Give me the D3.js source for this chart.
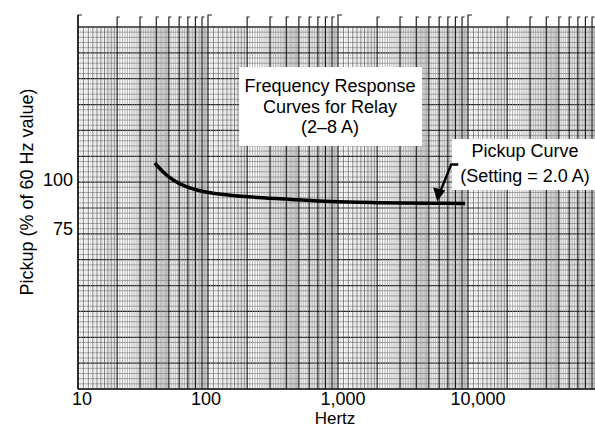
<!DOCTYPE html>
<html>
<head>
<meta charset="utf-8">
<script src="https://cdn.jsdelivr.net/npm/d3@7"></script>
<style>
  body { margin: 0; background: #fff; }
  svg { display: block; font-family: "Liberation Sans", Arial, sans-serif; }
</style>
</head>
<body>
<script>
// curve
var freqHz    = [39, 45, 54, 68, 82, 104, 148, 264, 484, 868, 2000, 5000, 9500];
var pickupPct = [110.7, 105.1, 100, 96.1, 94.2, 92.6, 91.3, 89.9, 88.8, 87.9, 87.3, 87.0, 86.9];

var xTicks = [10, 100, 1000, 10000];
var xTickLabels = ["10", "100", "1,000", "10,000"];
var yTicks = [100, 75];
var yTickLabels = ["100", "75"];
var xDomain = [10, 100000];
var yDomain = [28.6, 250];
var decades = [10, 100, 1000, 10000];

var width = 595, height = 428;
var plotL = 78, plotR = 598, plotT = 27, plotB = 389;

var svg = d3.select("body").append("svg")
    .attr("width", width)
    .attr("height", height);

var x = d3.scaleLog().domain(xDomain).range([plotL, plotR]);
var y = d3.scaleLog().domain(yDomain).range([plotB, plotT]);
// the paper's horizontal rulings are evenly spaced
var paperY = d3.scaleLinear().domain([0, 70]).range([plotB, plotT]);

var paper = svg.append("g");

// horizontal rulings
paper.selectAll("line.h")
    .data(d3.range(0, 71))
    .enter().append("line")
    .attr("class", "h")
    .attr("x1", plotL).attr("x2", width)
    .attr("y1", function(d){ return paperY(d); })
    .attr("y2", function(d){ return paperY(d); })
    .attr("stroke", function(d){ return d % 5 == 0 ? "#1a1a1a" : "#7a7a7a"; })
    .attr("stroke-width", function(d){ return d % 5 == 0 ? 1.2 : 0.7; });

// vertical rulings, log cycles
var vlines = [];
decades.forEach(function(dec){
    for (var m = 10; m < 100; m++) {
        var v = m / 10;
        if (v < 2) vlines.push({v: v * dec, kind: m % 10 == 0 ? "major" : "mid"});
        else if (v < 5) vlines.push({v: v * dec, kind: m % 10 == 0 ? "major" : "minor"});
        else if (m % 2 == 0) vlines.push({v: v * dec, kind: m % 10 == 0 ? "major" : "minor"});
    }
    // extra fine rulings in the 1-2 part
    for (var k = 21; k < 40; k += 2) vlines.push({v: k / 20 * dec, kind: "fine"});
});
vlines.push({v: 100000, kind: "major"});

var vStroke = {major: "#1a1a1a", mid: "#5e5e5e", minor: "#929292", fine: "#bdbdbd"};
var vWidth = {major: 1.2, mid: 0.8, minor: 0.7, fine: 0.6};

paper.selectAll("line.v")
    .data(vlines)
    .enter().append("line")
    .attr("class", "v")
    .attr("x1", function(d){ return x(d.v); })
    .attr("x2", function(d){ return x(d.v); })
    .attr("y1", plotT).attr("y2", plotB)
    .attr("stroke", function(d){ return vStroke[d.kind]; })
    .attr("stroke-width", function(d){ return vWidth[d.kind]; });

// little flags above each cycle line
var flags = vlines.filter(function(d){ return d.kind == "major"; });
paper.selectAll("path.flag")
    .data(flags)
    .enter().append("path")
    .attr("class", "flag")
    .attr("d", function(d){
        var px = x(d.v);
        var isDec = decades.indexOf(d.v) >= 0 || d.v == 100000;
        return "M" + px + "," + plotT + "V" + (isDec ? 15 : 17) + "h" + (isDec ? 4 : 2.5);
    })
    .attr("fill", "none")
    .attr("stroke", "#222")
    .attr("stroke-width", 1.2);

// border
paper.append("line").attr("x1", plotL).attr("x2", width).attr("y1", plotT).attr("y2", plotT)
    .attr("stroke", "#333").attr("stroke-width", 1);
paper.append("line").attr("x1", plotL).attr("x2", width).attr("y1", plotB).attr("y2", plotB)
    .attr("stroke", "#222").attr("stroke-width", 1.4);
paper.append("line").attr("x1", plotL).attr("x2", plotL).attr("y1", 15).attr("y2", plotB)
    .attr("stroke", "#111").attr("stroke-width", 1.4);

// white label boxes
svg.append("rect").attr("x", 239).attr("y", 67).attr("width", 183).attr("height", 79).attr("fill", "#fff");
svg.append("rect").attr("x", 452).attr("y", 139).attr("width", 143).attr("height", 51).attr("fill", "#fff");

// pickup curve
var pts = freqHz.map(function(f, i){ return [f, pickupPct[i]]; });
var line = d3.line()
    .x(function(d){ return x(d[0]); })
    .y(function(d){ return y(d[1]); })
    .curve(d3.curveMonotoneX);

svg.append("path")
    .datum(pts)
    .attr("d", line)
    .attr("fill", "none")
    .attr("stroke", "#000")
    .attr("stroke-width", 3.5)
    .attr("stroke-linecap", "butt");

// titles
var title = svg.append("text")
    .attr("text-anchor", "middle")
    .attr("font-size", "18px")
    .attr("fill", "#000");
["Frequency Response", "Curves for Relay", "(2\u20138 A)"].forEach(function(t, i){
    title.append("tspan").attr("x", 330).attr("y", 92 + i * 20.5).text(t);
});

var note = svg.append("text")
    .attr("text-anchor", "middle")
    .attr("font-size", "18px")
    .attr("fill", "#000");
["Pickup Curve", "(Setting = 2.0 A)"].forEach(function(t, i){
    note.append("tspan").attr("x", 525).attr("y", 157 + i * 25).text(t);
});

// arrow pointing to the curve
var tipX = x(5800), tipY = y(86.9) - 2;
svg.append("path")
    .attr("d", "M" + (tipX + 21) + "," + (tipY - 37) + "h-7L" + (tipX + 3) + "," + (tipY - 10))
    .attr("fill", "none")
    .attr("stroke", "#000")
    .attr("stroke-width", 2.4);
svg.append("path")
    .attr("d", "M" + tipX + "," + tipY + "L" + (tipX - 4) + "," + (tipY - 14) + "L" + (tipX + 8) + "," + (tipY - 11) + "Z")
    .attr("fill", "#000");

// axis labels
svg.selectAll("text.xt")
    .data(xTicks)
    .enter().append("text")
    .attr("class", "xt")
    .attr("x", function(d, i){ return x(d) + [4, -2, 5, 10][i]; })
    .attr("y", 404.5)
    .attr("text-anchor", "middle")
    .attr("font-size", "18px")
    .text(function(d, i){ return xTickLabels[i]; });

svg.selectAll("text.yt")
    .data(yTicks)
    .enter().append("text")
    .attr("class", "yt")
    .attr("x", 73)
    .attr("y", function(d){ return y(d) + 6.5; })
    .attr("text-anchor", "end")
    .attr("font-size", "18px")
    .text(function(d, i){ return yTickLabels[i]; });

svg.append("text")
    .attr("x", 335).attr("y", 424)
    .attr("text-anchor", "middle")
    .attr("font-size", "17px")
    .text("Hertz");

svg.append("text")
    .attr("transform", "translate(33,192) rotate(-90)")
    .attr("text-anchor", "middle")
    .attr("font-size", "18px")
    .text("Pickup (% of 60 Hz value)");
</script>
</body>
</html>
